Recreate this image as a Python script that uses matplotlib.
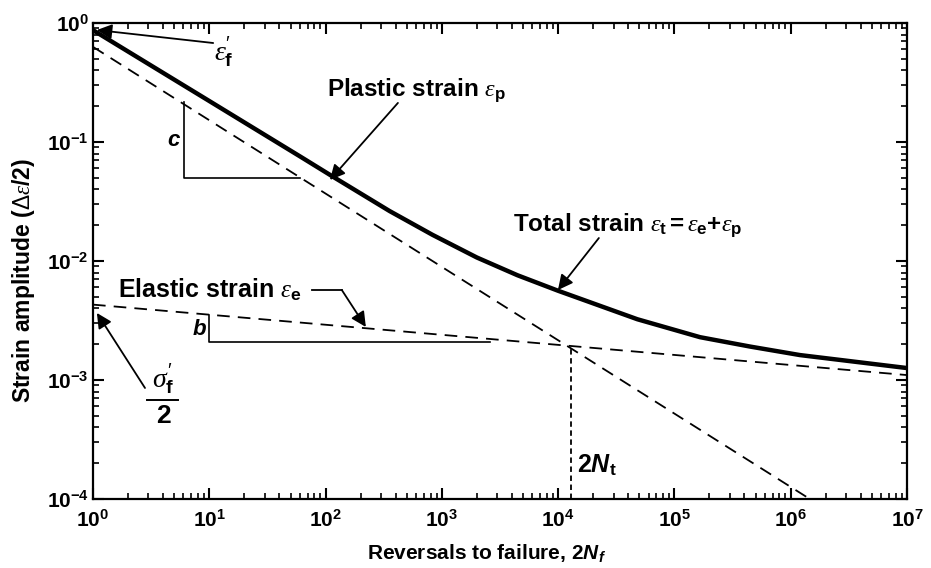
import matplotlib
matplotlib.use("Agg")
import matplotlib.pyplot as plt
from matplotlib.ticker import FixedLocator, FixedFormatter, LogLocator, NullFormatter

plt.rcParams['font.family'] = ['Liberation Sans', 'DejaVu Sans']
plt.rcParams['mathtext.fontset'] = 'custom'
plt.rcParams['mathtext.rm'] = 'Liberation Sans'
plt.rcParams['mathtext.it'] = 'Liberation Serif:italic'
plt.rcParams['mathtext.bf'] = 'Liberation Sans:bold'
plt.rcParams['mathtext.bfit'] = 'Liberation Sans:italic:bold'

# ---- data ----
total_x = [1, 10, 60, 115, 355, 830, 2000, 4470, 1.0e4, 4.8e4, 1.66e5, 4.47e5, 1.2e6, 1.0e7]
total_y = [0.871, 0.221, 0.0759, 0.0513, 0.0263, 0.0166, 0.0107, 0.00759,
           0.00562, 0.00324, 0.00229, 0.00191, 0.00162, 0.00126]
plastic_x = [1, 1.46e6]
plastic_y = [0.63, 1.0e-4]
elastic_x = [1, 1.0e7]
elastic_y = [0.0043, 0.0011]
transition_x = 1.29e4
transition_y = 0.00192

xtick_vals = [1e0, 1e1, 1e2, 1e3, 1e4, 1e5, 1e6, 1e7]
xtick_labels = [r'$\mathbf{10^{%d}}$' % e for e in range(0, 8)]
ytick_vals = [1e-4, 1e-3, 1e-2, 1e-1, 1e0]
ytick_labels = [r'$\mathbf{10^{%d}}$' % e for e in range(-4, 1)]

fig = plt.figure(figsize=(9.31, 5.68), dpi=100)
ax = fig.add_axes([93/931, 1-499/568, (907-93)/931, (499-23)/568])
ax.set_xscale('log')
ax.set_yscale('log')
ax.set_xlim(1, 1e7)
ax.set_ylim(1e-4, 1)

dash = (0, (7, 4.5))
ax.plot(total_x, total_y, color='black', lw=3.2, solid_capstyle='butt',
        solid_joinstyle='round')
ax.plot(plastic_x, plastic_y, color='black', lw=1.3, linestyle=dash)
ax.plot(elastic_x, elastic_y, color='black', lw=1.3, linestyle=dash)
ax.plot([transition_x, transition_x], [1e-4, transition_y], color='black',
        lw=1.3, linestyle=(0, (3, 2)))

# slope triangles
ax.plot([6.06, 6.06, 60.3], [0.217, 0.0498, 0.0498], color='black', lw=1.2)
ax.text(4.9, 0.102, 'c', fontsize=16, fontstyle='italic', fontweight='bold',
        ha='center', va='center')
ax.plot([9.94, 9.94, 2590], [0.00352, 0.00209, 0.00209], color='black', lw=1.2)
ax.text(8.2, 0.00265, 'b', fontsize=16, fontstyle='italic', fontweight='bold',
        ha='center', va='center')

arrow = dict(arrowstyle='-|>,head_length=0.5,head_width=0.25', color='black',
             lw=1.3, mutation_scale=18, shrinkA=0, shrinkB=0)

# epsilon_f'
ax.annotate('', xy=(1.08, 0.873), xytext=(10.8, 0.679), arrowprops=arrow)
ax.text(11.0, 0.57, r"$\varepsilon^{\prime}_{\mathbf{f}}$", fontsize=20,
        ha='left', va='center')

# Plastic strain
ax.annotate('', xy=(109, 0.048), xytext=(419, 0.213), arrowprops=arrow)
ax.text(103, 0.274, r"Plastic strain $\varepsilon_{\mathbf{p}}$", fontsize=17.5,
        fontweight='bold', ha='left', va='center')

# Total strain
ax.annotate('', xy=(9960, 0.0057), xytext=(2.24e4, 0.0156), arrowprops=arrow)
ax.text(4085, 0.0201,
        r"Total strain $\varepsilon_{\mathbf{t}}\mathbf{=}\varepsilon_{\mathbf{e}}\mathbf{+}\varepsilon_{\mathbf{p}}$",
        fontsize=17.5, fontweight='bold', ha='left', va='center')

# Elastic strain
ax.plot([76.4, 138], [0.0057, 0.0057], color='black', lw=1.3)
ax.annotate('', xy=(222, 0.00279), xytext=(138, 0.0057), arrowprops=arrow)
ax.text(1.64, 0.0057, r"Elastic strain $\varepsilon_{\mathbf{e}}$", fontsize=18,
        fontweight='bold', ha='left', va='center')

# sigma_f' / 2
ax.annotate('', xy=(1.08, 0.00366), xytext=(2.8, 8.57e-4), arrowprops=arrow)
ax.text(4.0, 7.4e-4, r"$\sigma^{\prime}_{\mathbf{f}}$", fontsize=20,
        ha='center', va='bottom')
ax.plot([2.91, 5.38], [6.85e-4, 6.85e-4], color='black', lw=1.4)
ax.text(4.0, 6.3e-4, '2', fontsize=19, fontweight='bold', ha='center', va='top')

# 2N_t
ax.text(1.46e4, 1.93e-4, r"$\mathbf{2}\mathbfit{N}_{\mathbf{t}}$", fontsize=18,
        ha='left', va='center')

# ticks
ax.xaxis.set_major_locator(FixedLocator(xtick_vals))
ax.xaxis.set_major_formatter(FixedFormatter(xtick_labels))
ax.yaxis.set_major_locator(FixedLocator(ytick_vals))
ax.yaxis.set_major_formatter(FixedFormatter(ytick_labels))
ax.xaxis.set_minor_locator(LogLocator(base=10, subs=range(2, 10), numticks=20))
ax.yaxis.set_minor_locator(LogLocator(base=10, subs=range(2, 10), numticks=20))
ax.xaxis.set_minor_formatter(NullFormatter())
ax.yaxis.set_minor_formatter(NullFormatter())
ax.tick_params(which='both', direction='in', top=True, right=True)
ax.tick_params(which='major', length=8, width=1.5, labelsize=15)
ax.tick_params(which='minor', length=4, width=1.2)
ax.tick_params(axis='x', which='major', pad=7)
ax.tick_params(axis='y', which='major', pad=3)
for s in ax.spines.values():
    s.set_linewidth(1.6)

fig.text(24/931, 1-280/568, r"Strain amplitude ($\Delta\varepsilon$/2)", rotation=90,
         fontsize=16.5, fontweight='bold', ha='center', va='center')
fig.text(487/931, 1-553/568, r"Reversals to failure, 2$\mathbfit{N}_{\mathbfit{f}}$",
         fontsize=15, fontweight='bold', ha='center', va='center')

fig.savefig('out.png', dpi=100)
